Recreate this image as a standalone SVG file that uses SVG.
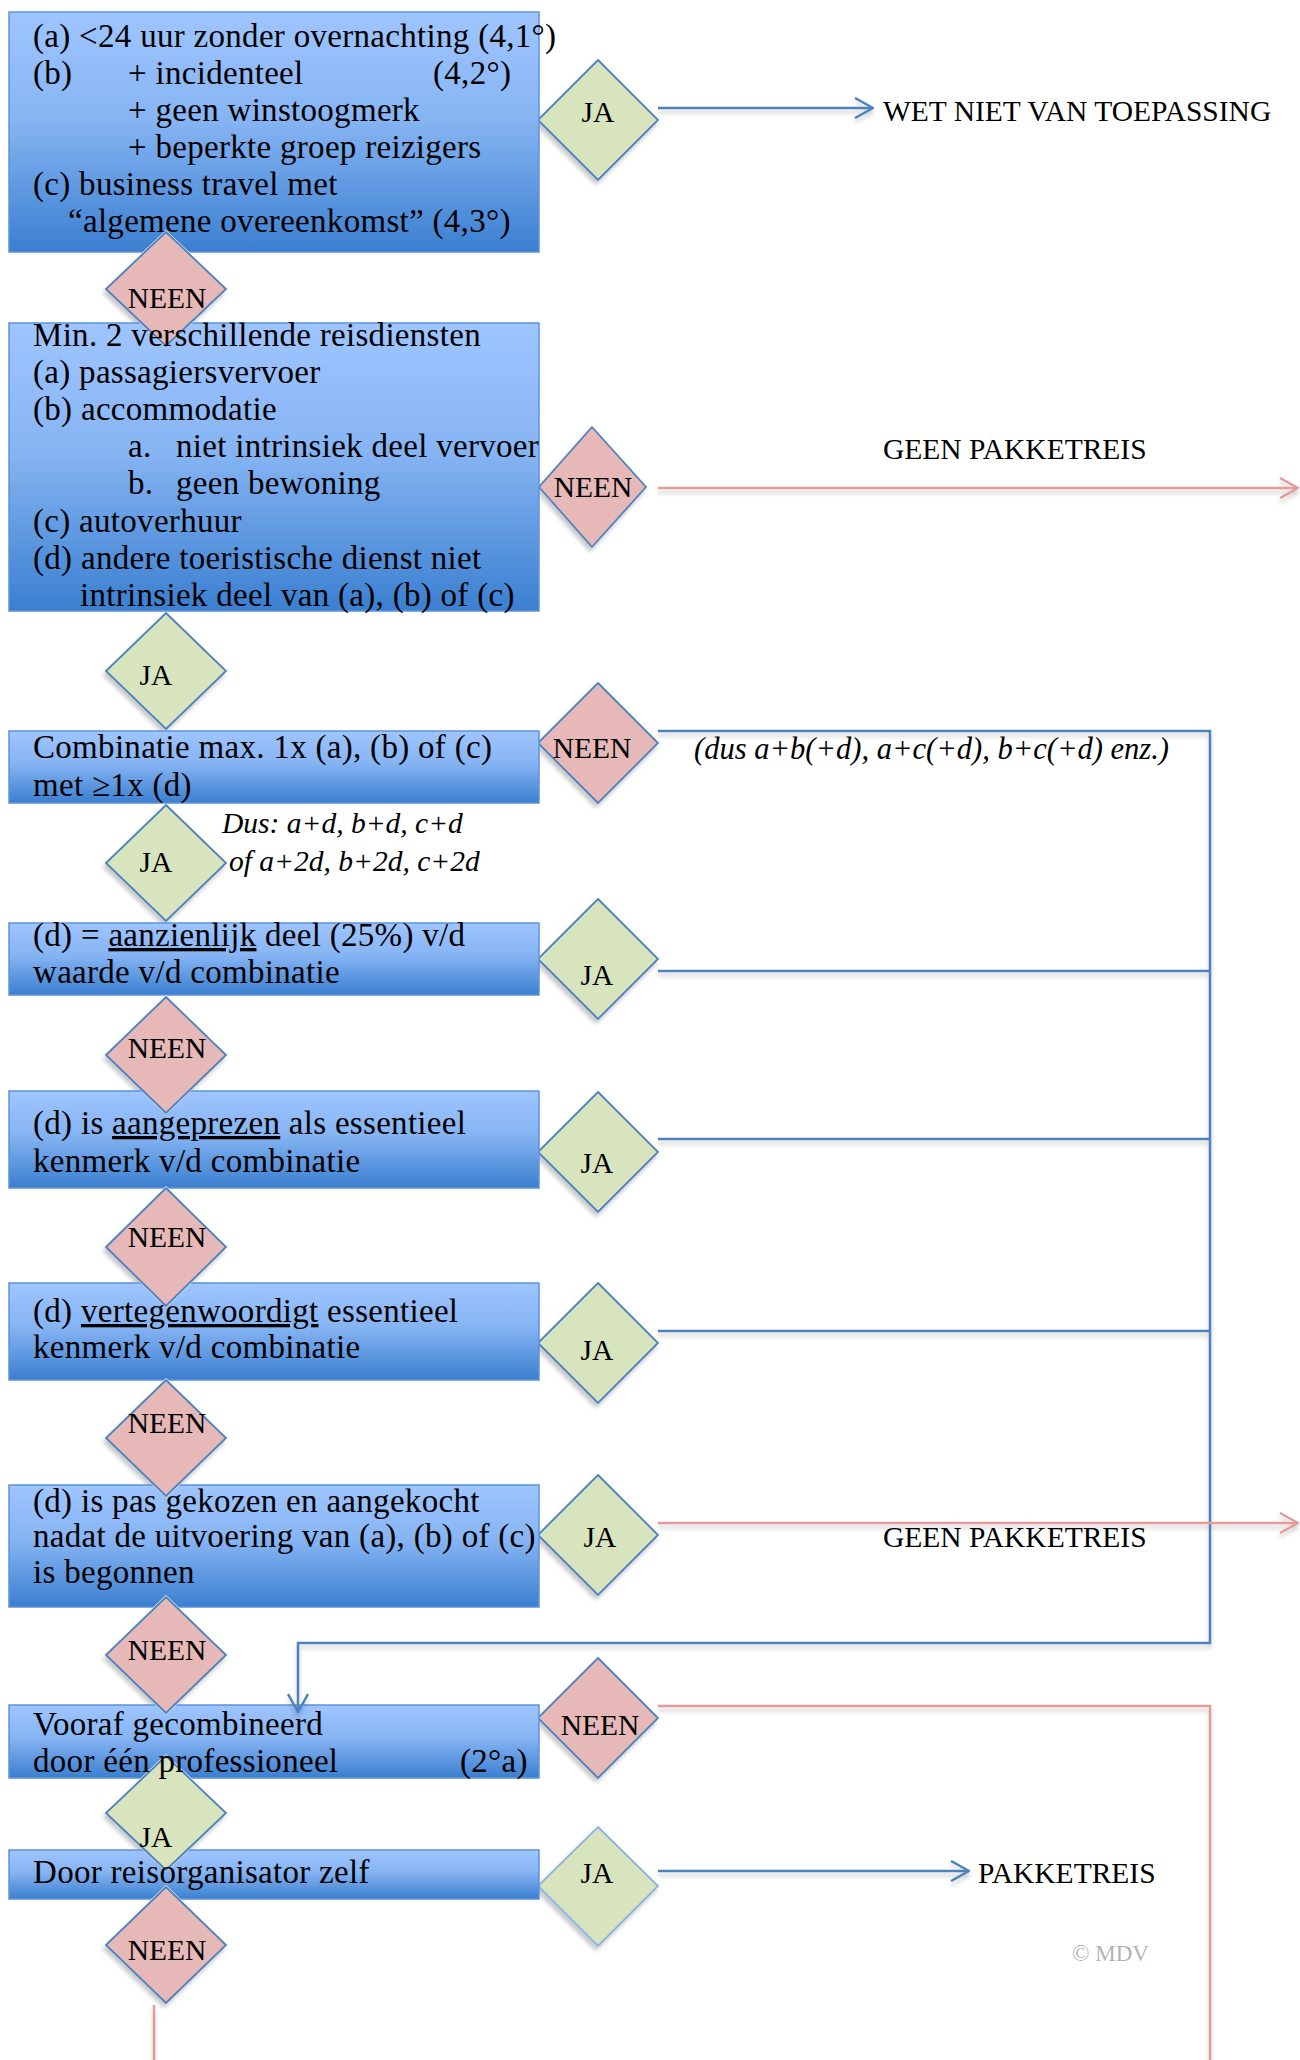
<svg xmlns="http://www.w3.org/2000/svg" width="1300" height="2060" viewBox="0 0 1300 2060">
<style>
.bt{font-family:"Liberation Serif","Times New Roman",serif;font-size:33px;letter-spacing:0.3px;fill:#000}
.dt{font-family:"Liberation Serif","Times New Roman",serif;font-size:29.5px;fill:#000;text-anchor:middle}
.lb{font-family:"Liberation Serif","Times New Roman",serif;font-size:29.5px;fill:#000}
.it{font-family:"Liberation Serif","Times New Roman",serif;font-size:29.5px;font-style:italic;fill:#000}
.box{fill:url(#bg);stroke:#5f93d8;stroke-width:1.5;mask:url(#cut)}
.ja{fill:#d7e4bd;stroke:#4f81bd;stroke-width:1.8;filter:url(#sh)}
.nee{fill:#e6b9b8;stroke:#4f81bd;stroke-width:1.8;filter:url(#sh)}
.cb{fill:none;stroke:#4f81bd;stroke-width:2.5}
.cr{fill:none;stroke:#e39b9b;stroke-width:2.5}
.u{text-decoration:underline}
</style>
<defs>
<linearGradient id="bg" x1="0" y1="0" x2="0" y2="1">
<stop offset="0" stop-color="#9fc5ff"/>
<stop offset="0.45" stop-color="#86b4f3"/>
<stop offset="1" stop-color="#3b7fd0"/>
</linearGradient>
<filter id="sh" x="-20%" y="-20%" width="150%" height="150%">
<feDropShadow dx="-2" dy="4" stdDeviation="2" flood-color="#000" flood-opacity="0.22"/>
</filter>
<filter id="lsh" x="-5%" y="-50%" width="110%" height="300%">
<feDropShadow dx="0" dy="4" stdDeviation="2" flood-color="#000" flood-opacity="0.2"/>
</filter>
<marker id="ab" viewBox="0 0 20 22" refX="19" refY="11" markerWidth="20" markerHeight="22" markerUnits="userSpaceOnUse" orient="auto">
<path d="M1,1 L19,11 L1,21" fill="none" stroke="#4f81bd" stroke-width="2.5"/>
</marker>
<marker id="ar" viewBox="0 0 20 22" refX="19" refY="11" markerWidth="20" markerHeight="22" markerUnits="userSpaceOnUse" orient="auto">
<path d="M1,1 L19,11 L1,21" fill="none" stroke="#e39b9b" stroke-width="2.5"/>
</marker>
<mask id="cut" maskUnits="userSpaceOnUse" x="0" y="0" width="1300" height="2060">
<rect x="0" y="0" width="1300" height="2060" fill="#fff"/>
<g fill="#000" stroke="#000" stroke-width="3">
<polygon points="166,232 226,289 166,346 106,289"/>
<polygon points="166,997 226,1055 166,1113 106,1055"/>
<polygon points="166,1188 226,1247 166,1306 106,1247"/>
<polygon points="166,1380 226,1438 166,1496 106,1438"/>
<polygon points="166,1597 226,1655 166,1713 106,1655"/>
<polygon points="166,1756 226,1813 166,1870 106,1813"/>
<polygon points="166,1887 226,1945 166,2003 106,1945"/>
</g>
</mask>
</defs>

<!-- decision diamonds -->
<g id="d-ja1"><polygon class="ja" points="598,60 658,120 598,180 538,120"/><text class="dt" x="598" y="122">JA</text></g>
<g id="d-neen1"><polygon class="nee" points="166,232 226,289 166,346 106,289"/><text class="dt" x="167" y="308">NEEN</text></g>
<g id="d-neen2"><polygon class="nee" points="592,427 646,487 592,547 539,487"/><text class="dt" x="593" y="497">NEEN</text></g>
<g id="d-ja2"><polygon class="ja" points="166,613 226,671 166,729 106,671"/><text class="dt" x="156" y="685">JA</text></g>
<g id="d-neen3"><polygon class="nee" points="598,683 658,743 598,803 538,743"/><text class="dt" x="592" y="758">NEEN</text></g>
<g id="d-ja3"><polygon class="ja" points="166,805 226,863 166,921 106,863"/><text class="dt" x="156" y="872">JA</text></g>
<g id="d-ja4"><polygon class="ja" points="598,899 658,959 598,1019 538,959"/><text class="dt" x="597" y="985">JA</text></g>
<g id="d-neen4"><polygon class="nee" points="166,997 226,1055 166,1113 106,1055"/><text class="dt" x="167" y="1058">NEEN</text></g>
<g id="d-ja5"><polygon class="ja" points="598,1092 658,1152 598,1212 538,1152"/><text class="dt" x="597" y="1173">JA</text></g>
<g id="d-neen5"><polygon class="nee" points="166,1188 226,1247 166,1306 106,1247"/><text class="dt" x="167" y="1247">NEEN</text></g>
<g id="d-ja6"><polygon class="ja" points="598,1283 658,1343 598,1403 538,1343"/><text class="dt" x="597" y="1360">JA</text></g>
<g id="d-neen6"><polygon class="nee" points="166,1380 226,1438 166,1496 106,1438"/><text class="dt" x="167" y="1433">NEEN</text></g>
<g id="d-ja7"><polygon class="ja" points="598,1475 658,1535 598,1595 538,1535"/><text class="dt" x="600" y="1547">JA</text></g>
<g id="d-neen7"><polygon class="nee" points="166,1597 226,1655 166,1713 106,1655"/><text class="dt" x="167" y="1660">NEEN</text></g>
<g id="d-neen8"><polygon class="nee" points="598,1658 658,1718 598,1778 538,1718"/><text class="dt" x="600" y="1735">NEEN</text></g>
<g id="d-ja8"><polygon class="ja" points="166,1756 226,1813 166,1870 106,1813"/><text class="dt" x="156" y="1847">JA</text></g>
<g id="d-ja9"><polygon class="ja" style="stroke:#8db3e2" points="598,1827 658,1886 598,1946 538,1886"/><text class="dt" x="597" y="1883">JA</text></g>
<g id="d-neen9"><polygon class="nee" points="166,1887 226,1945 166,2003 106,1945"/><text class="dt" x="167" y="1960">NEEN</text></g>

<!-- process boxes -->
<g id="b1">
<rect class="box" x="9" y="12" width="530" height="240"/>
<text class="bt" x="33" y="47">(a) &lt;24 uur zonder overnachting (4,1°)</text>
<text class="bt" y="84"><tspan x="33">(b)</tspan><tspan x="128">+ incidenteel</tspan><tspan x="433">(4,2°)</tspan></text>
<text class="bt" x="128" y="121">+ geen winstoogmerk</text>
<text class="bt" x="128" y="158">+ beperkte groep reizigers</text>
<text class="bt" x="33" y="195">(c) business travel met</text>
<text class="bt" x="68" y="232">“algemene overeenkomst” (4,3°)</text>
</g>
<g id="b2">
<rect class="box" x="9" y="323" width="530" height="288"/>
<text class="bt" x="33" y="346">Min. 2 verschillende reisdiensten</text>
<text class="bt" x="33" y="383">(a) passagiersvervoer</text>
<text class="bt" x="33" y="420">(b) accommodatie</text>
<text class="bt" y="457"><tspan x="128">a.</tspan><tspan x="176">niet intrinsiek deel vervoer</tspan></text>
<text class="bt" y="494"><tspan x="128">b.</tspan><tspan x="176">geen bewoning</tspan></text>
<text class="bt" x="33" y="532">(c) autoverhuur</text>
<text class="bt" x="33" y="569">(d) andere toeristische dienst niet</text>
<text class="bt" x="80" y="606">intrinsiek deel van (a), (b) of (c)</text>
</g>
<g id="b3">
<rect class="box" x="9" y="731" width="530" height="72"/>
<text class="bt" x="33" y="758">Combinatie max. 1x (a), (b) of (c)</text>
<text class="bt" x="33" y="796">met ≥1x (d)</text>
</g>
<g id="b4">
<rect class="box" x="9" y="923" width="530" height="72"/>
<text class="bt" x="33" y="946">(d) = <tspan class="u">aanzienlijk</tspan> deel (25%) v/d</text>
<text class="bt" x="33" y="983">waarde v/d combinatie</text>
</g>
<g id="b5">
<rect class="box" x="9" y="1091" width="530" height="97"/>
<text class="bt" x="33" y="1134">(d) is <tspan class="u">aangeprezen</tspan> als essentieel</text>
<text class="bt" x="33" y="1172">kenmerk v/d combinatie</text>
</g>
<g id="b6">
<rect class="box" x="9" y="1283" width="530" height="97"/>
<text class="bt" x="33" y="1322">(d) <tspan class="u">vertegenwoordigt</tspan> essentieel</text>
<text class="bt" x="33" y="1358">kenmerk v/d combinatie</text>
</g>
<g id="b7">
<rect class="box" x="9" y="1485" width="530" height="122"/>
<text class="bt" x="33" y="1512">(d) is pas gekozen en aangekocht</text>
<text class="bt" x="33" y="1547">nadat de uitvoering van (a), (b) of (c)</text>
<text class="bt" x="33" y="1583">is begonnen</text>
</g>
<g id="b8">
<rect class="box" x="9" y="1705" width="530" height="73"/>
<text class="bt" x="33" y="1735">Vooraf gecombineerd</text>
<text class="bt" y="1772"><tspan x="33">door één professioneel</tspan><tspan x="460">(2°a)</tspan></text>
</g>
<g id="b9">
<rect class="box" x="9" y="1850" width="530" height="49"/>
<text class="bt" x="33" y="1883">Door reisorganisator zelf</text>
</g>

<!-- outcomes and notes -->
<g id="o-wet"><text class="lb" x="883" y="121">WET NIET VAN TOEPASSING</text></g>
<g id="o-geen1"><text class="lb" x="883" y="459">GEEN PAKKETREIS</text></g>
<g id="o-geen2"><text class="lb" x="883" y="1547">GEEN PAKKETREIS</text></g>
<g id="o-pakket"><text class="lb" x="978" y="1883">PAKKETREIS</text></g>
<g id="note1"><text class="it" x="694" y="759" style="font-size:30.5px">(dus a+b(+d), a+c(+d), b+c(+d) enz.)</text></g>
<g id="note2"><text class="it" x="222" y="833">Dus: a+d, b+d, c+d</text><text class="it" x="229" y="871">of a+2d, b+2d, c+2d</text></g>
<g id="copy"><text x="1072" y="1961" style="font-family:'Liberation Serif','Times New Roman',serif;font-size:23px;fill:#b3b3b3">© MDV</text></g>

<!-- connectors -->
<g id="connectors" filter="url(#lsh)">
<path class="cb" d="M658,108 H873" marker-end="url(#ab)"/>
<path class="cr" d="M658,488 H1298" marker-end="url(#ar)"/>
<path class="cb" d="M658,731 H1210 V1643 H298 V1712" marker-end="url(#ab)"/>
<path class="cb" d="M658,971 H1210"/>
<path class="cb" d="M658,1139 H1210"/>
<path class="cb" d="M658,1331 H1210"/>
<path class="cr" d="M658,1523 H1298" marker-end="url(#ar)"/>
<path class="cr" d="M658,1706 H1210 V2060"/>
<path class="cb" d="M658,1871 H969" marker-end="url(#ab)"/>
<path class="cr" d="M154,2005 V2060"/>
</g>
</svg>
